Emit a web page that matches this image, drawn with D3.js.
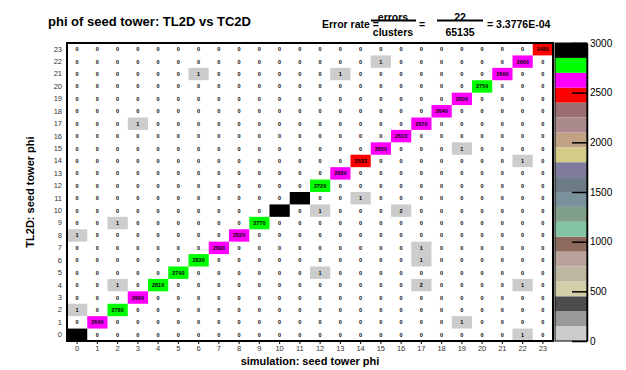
<!DOCTYPE html>
<html>
<head>
<meta charset="utf-8">
<script src="https://cdn.jsdelivr.net/npm/d3@7"></script>
<style>
  body { margin: 0; background: #fff; }
  text { font-family: "Liberation Sans", Arial, sans-serif; }
</style>
</head>
<body>
<svg id="chart" width="626" height="370"></svg>
<script>
// phi bins of seed tower (both axes)
const phiBins = [0, 1, 2, 3, 4, 5, 6, 7, 8, 9, 10, 11, 12, 13, 14, 15, 16, 17, 18, 19, 20, 21, 22, 23];

// matched clusters on the diagonal (TL2D == TC2D)
const diagCounts = [2980, 2640, 2780, 2660, 2810, 2740, 2830, 2690, 2620, 2770, 2920, 2990,
                    2720, 2680, 2533, 2650, 2610, 2670, 2640, 2600, 2750, 2690, 2660, 2480];

// mismatches: [simulation phi, TL2D phi, count]
const errorCells = [
  [6, 21, 1], [13, 21, 1], [15, 22, 1], [3, 17, 1], [19, 15, 1], [22, 14, 1],
  [12, 10, 1], [14, 11, 1], [16, 10, 2], [2, 9, 1], [0, 8, 1], [17, 7, 1],
  [17, 6, 1], [17, 4, 2], [12, 5, 1], [2, 4, 1], [22, 4, 1], [0, 2, 1],
  [19, 1, 1], [22, 0, 1]
];

// palette (bottom to top), 20 levels between 0 and 3000
const paletteColors = ['#cccccc', '#999999', '#4d4d4d', '#d3cda8', '#bdb8a0', '#b9a39b', '#8c6a5c',
                       '#82c4a4', '#7f9f8a', '#7a929c', '#6d7c86', '#7f7b9c', '#d4cc88', '#c2a284',
                       '#ab8a8d', '#9b6e73', '#ff0000', '#ff00ff', '#00ff00', '#000000'];
const paletteTicks = [0, 500, 1000, 1500, 2000, 2500, 3000];
const zMax = 3000;

const nErrors = 22;
const nClusters = 65135;

// build the full grid
const cells = [];
phiBins.forEach(sx => {
  phiBins.forEach(sy => {
    let v = sx === sy ? diagCounts[sx] : 0;
    const e = errorCells.find(d => d[0] === sx && d[1] === sy);
    if (e) v = e[2];
    cells.push({ sx, sy, v });
  });
});

const svg = d3.select('#chart');
const margin = { top: 43, left: 67 };
const plotW = 486;
const plotH = 298;

const x = d3.scaleBand().domain(phiBins).range([0, plotW]);
const y = d3.scaleBand().domain(phiBins).range([plotH, 0]);

const levels = d3.range(1, paletteColors.length).map(i => i * zMax / paletteColors.length);
const color = d3.scaleThreshold().domain(levels).range(paletteColors);

const g = svg.append('g').attr('transform', `translate(${margin.left},${margin.top})`);

// coloured cells (empty bins stay white)
g.selectAll('.cell')
  .data(cells.filter(d => d.v > 0))
  .enter().append('rect')
    .attr('class', 'cell')
    .attr('x', d => x(d.sx))
    .attr('y', d => y(d.sy))
    .attr('width', x.bandwidth())
    .attr('height', y.bandwidth())
    .attr('fill', d => color(d.v));

// bin contents as tiny text
g.append('g')
  .attr('opacity', 0.99)
  .selectAll('.val')
  .data(cells)
  .enter().append('text')
    .attr('class', 'val')
    .attr('x', d => x(d.sx) + x.bandwidth() / 2)
    .attr('y', d => y(d.sy) + y.bandwidth() / 2 + 2)
    .attr('text-anchor', 'middle')
    .attr('font-size', 5.5)
    .attr('font-weight', 'bold')
    .attr('fill', '#000')
    .text(d => d.v);

// frame
g.append('rect')
  .attr('x', 0).attr('y', 0)
  .attr('width', plotW).attr('height', plotH)
  .attr('fill', 'none')
  .attr('stroke', '#000')
  .attr('stroke-width', 2);

// x axis
const xAxis = g.append('g')
  .attr('transform', `translate(0,${plotH})`)
  .call(d3.axisBottom(x).tickSize(3).tickPadding(2));
xAxis.select('.domain').remove();
xAxis.selectAll('text').attr('font-size', 7.5).attr('fill', '#333').attr('font-family', '"Liberation Sans", Arial, sans-serif');

// y axis
const yAxis = g.append('g')
  .call(d3.axisLeft(y).tickSize(0).tickPadding(5));
yAxis.select('.domain').remove();
yAxis.selectAll('text').attr('font-size', 7.5).attr('fill', '#333').attr('font-family', '"Liberation Sans", Arial, sans-serif');

// axis titles
svg.append('text')
  .attr('x', margin.left + plotW / 2).attr('y', 365)
  .attr('text-anchor', 'middle')
  .attr('font-size', 11).attr('font-weight', 'bold')
  .text('simulation: seed tower phi');

svg.append('text')
  .attr('transform', `translate(34,${margin.top + plotH / 2}) rotate(-90)`)
  .attr('text-anchor', 'middle')
  .attr('font-size', 11).attr('font-weight', 'bold')
  .text('TL2D: seed tower phi');

// palette
const palX = 555;
const palW = 32;
const z = d3.scaleLinear().domain([0, zMax]).range([margin.top + plotH, margin.top]);
const palBins = paletteColors.map((c, i) => ({ c, lo: levels[i - 1] || 0, hi: levels[i] || zMax }));

svg.selectAll('.pal')
  .data(palBins)
  .enter().append('rect')
    .attr('class', 'pal')
    .attr('x', palX)
    .attr('y', d => z(d.hi))
    .attr('width', palW)
    .attr('height', d => z(d.lo) - z(d.hi))
    .attr('fill', d => d.c);

svg.append('rect')
  .attr('x', palX).attr('y', margin.top)
  .attr('width', palW).attr('height', plotH)
  .attr('fill', 'none').attr('stroke', '#000').attr('stroke-width', 1);

const zAxis = svg.append('g')
  .attr('transform', `translate(${palX + palW},0)`)
  .call(d3.axisRight(z).tickValues(paletteTicks).tickFormat(d3.format('d')).tickSize(0).tickPadding(3));
zAxis.select('.domain').attr('stroke-width', 1.5);
zAxis.selectAll('text').attr('font-size', 10).attr('font-family', '"Liberation Sans", Arial, sans-serif');
zAxis.selectAll('.tick').append('line')
  .attr('x1', -15).attr('x2', 0)
  .attr('stroke', '#000').attr('stroke-width', 1.5);

// title
svg.append('text')
  .attr('x', 48).attr('y', 26)
  .attr('font-size', 13).attr('font-weight', 'bold')
  .text('phi of seed tower: TL2D vs TC2D');

// error rate formula
const f = svg.append('g').attr('font-size', 10.5).attr('font-weight', 'bold');
f.append('text').attr('x', 322).attr('y', 28).text('Error rate =');
f.append('text').attr('x', 393).attr('y', 21).attr('text-anchor', 'middle').text('errors');
f.append('line').attr('x1', 371).attr('x2', 416).attr('y1', 20.5).attr('y2', 20.5).attr('stroke', '#000').attr('stroke-width', 2);
f.append('text').attr('x', 393).attr('y', 36).attr('text-anchor', 'middle').text('clusters');
f.append('text').attr('x', 419).attr('y', 28).text('=');
f.append('text').attr('x', 460).attr('y', 21).attr('text-anchor', 'middle').text(nErrors);
f.append('line').attr('x1', 437).attr('x2', 483).attr('y1', 20.5).attr('y2', 20.5).attr('stroke', '#000').attr('stroke-width', 2);
f.append('text').attr('x', 460).attr('y', 36).attr('text-anchor', 'middle').text(nClusters);
f.append('text').attr('x', 487).attr('y', 28).text('= ' + (nErrors / nClusters).toExponential(4).toUpperCase().replace('E-4', 'E-04'));
</script>
</body>
</html>
